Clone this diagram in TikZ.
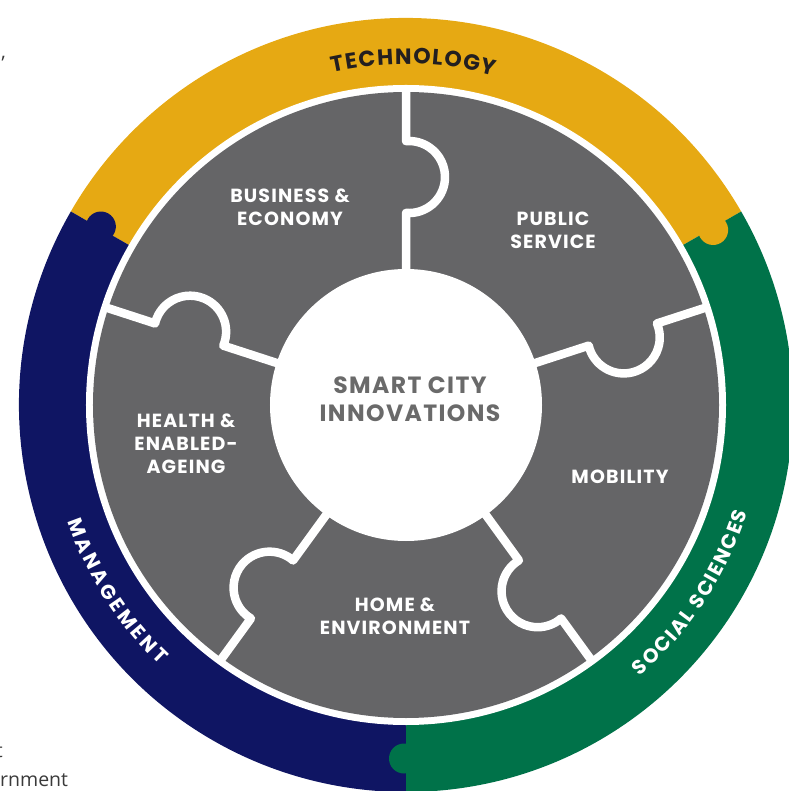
\documentclass[tikz,border=0pt]{standalone}
\usepackage{fontspec}
\setmainfont{Poppins}
\newfontfamily\segfont[LetterSpace=6]{Poppins}
\newfontfamily\bodyfont{Open Sans}
\usetikzlibrary{decorations.text}
\definecolor{ringgold}{HTML}{E6A913}
\definecolor{ringnavy}{HTML}{0F1563}
\definecolor{ringgreen}{HTML}{007249}
\definecolor{puzzlegray}{HTML}{656567}
\definecolor{centertext}{HTML}{6A6A6A}
\definecolor{techtext}{HTML}{231F20}
\definecolor{bodytext}{HTML}{3A3A3A}
\tikzset{
  divider/.style={draw=white, line width=8.5pt, line join=round},
  seglabel/.style={text=white, align=center, inner sep=0pt,
    font=\segfont\bfseries\fontsize{19}{23}\selectfont},
  centerlabel/.style={text=centertext, align=center, inner sep=0pt,
    font=\segfont\bfseries\fontsize{23.5}{28.5}\selectfont},
  frag/.style={text=bodytext, inner sep=0pt, font=\bodyfont\fontsize{19.5}{23}\selectfont},
}
\begin{document}
\begin{tikzpicture}[x=1pt,y=1pt]
\useasboundingbox (-406,-386) rectangle (382,405);
% outer ring
\fill[ringgold] (0,0) -- (30:387) arc[start angle=30,end angle=150,radius=387] -- cycle;
\fill[ringnavy] (0,0) -- (150:387) arc[start angle=150,end angle=270,radius=387] -- cycle;
\fill[ringgreen] (0,0) -- (270:387) arc[start angle=270,end angle=390,radius=387] -- cycle;
\fill[ringnavy, rotate=150] (353.5,-2) circle[radius=15];
\fill[ringgold, rotate=30] (353.5,-2) circle[radius=15];
\fill[ringgreen, rotate=270] (353.5,-2) circle[radius=15];
\fill[white] (0,0) circle[radius=320];
% puzzle disk
\fill[puzzlegray] (0,0) circle[radius=313];
\foreach \a in {90,162,234,306,18} {
  \draw[divider, rotate=\a] (120,0) -- (192.1,0)
    arc[start angle=175.2, end angle=364.8, radius=36] -- (316,0);
}
\fill[white] (0,0) circle[radius=136];
% labels
\node[centerlabel] (center) at (4,6) {SMART CITY\\INNOVATIONS};
\node[seglabel] (business) at (-116,198) {BUSINESS \&\\ECONOMY};
\node[seglabel] (public) at (147,175) {PUBLIC\\SERVICE};
\node[seglabel] (health) at (-220,-39) {HEALTH \&\\ENABLED-\\AGEING};
\node[seglabel] (mobility) at (214,-72) {MOBILITY};
\node[seglabel] (home) at (-11,-211) {HOME \&\\ENVIRONMENT};
% ring labels
\path[decorate, decoration={text along path, text align=fit to path,
  text color=techtext, text={|\bfseries\fontsize{22}{26}\selectfont|TECHNOLOGY}}]
  (102.5:341) arc[start angle=102.5, end angle=75, radius=341];
\path[decorate, decoration={text along path, text align=fit to path,
  text color=white, text={|\bfseries\fontsize{20}{24}\selectfont|MANAGEMENT}}]
  (199:358) arc[start angle=199, end angle=226.5, radius=358];
\path[decorate, decoration={text along path, text align=fit to path,
  text color=white, text={|\bfseries\fontsize{20}{24}\selectfont|SOCIAL SCIENCES}}]
  (310.8:358) arc[start angle=310.8, end angle=342.5, radius=358];
% cut-off page text
\node[frag, anchor=base west] (fragcomma) at (-405,346) {,};
\node[frag, anchor=base east] (fragt) at (-403,-352) {t};
\node[frag, anchor=base west] (fragword) at (-406,-381) {rnment};
\end{tikzpicture}
\end{document}
